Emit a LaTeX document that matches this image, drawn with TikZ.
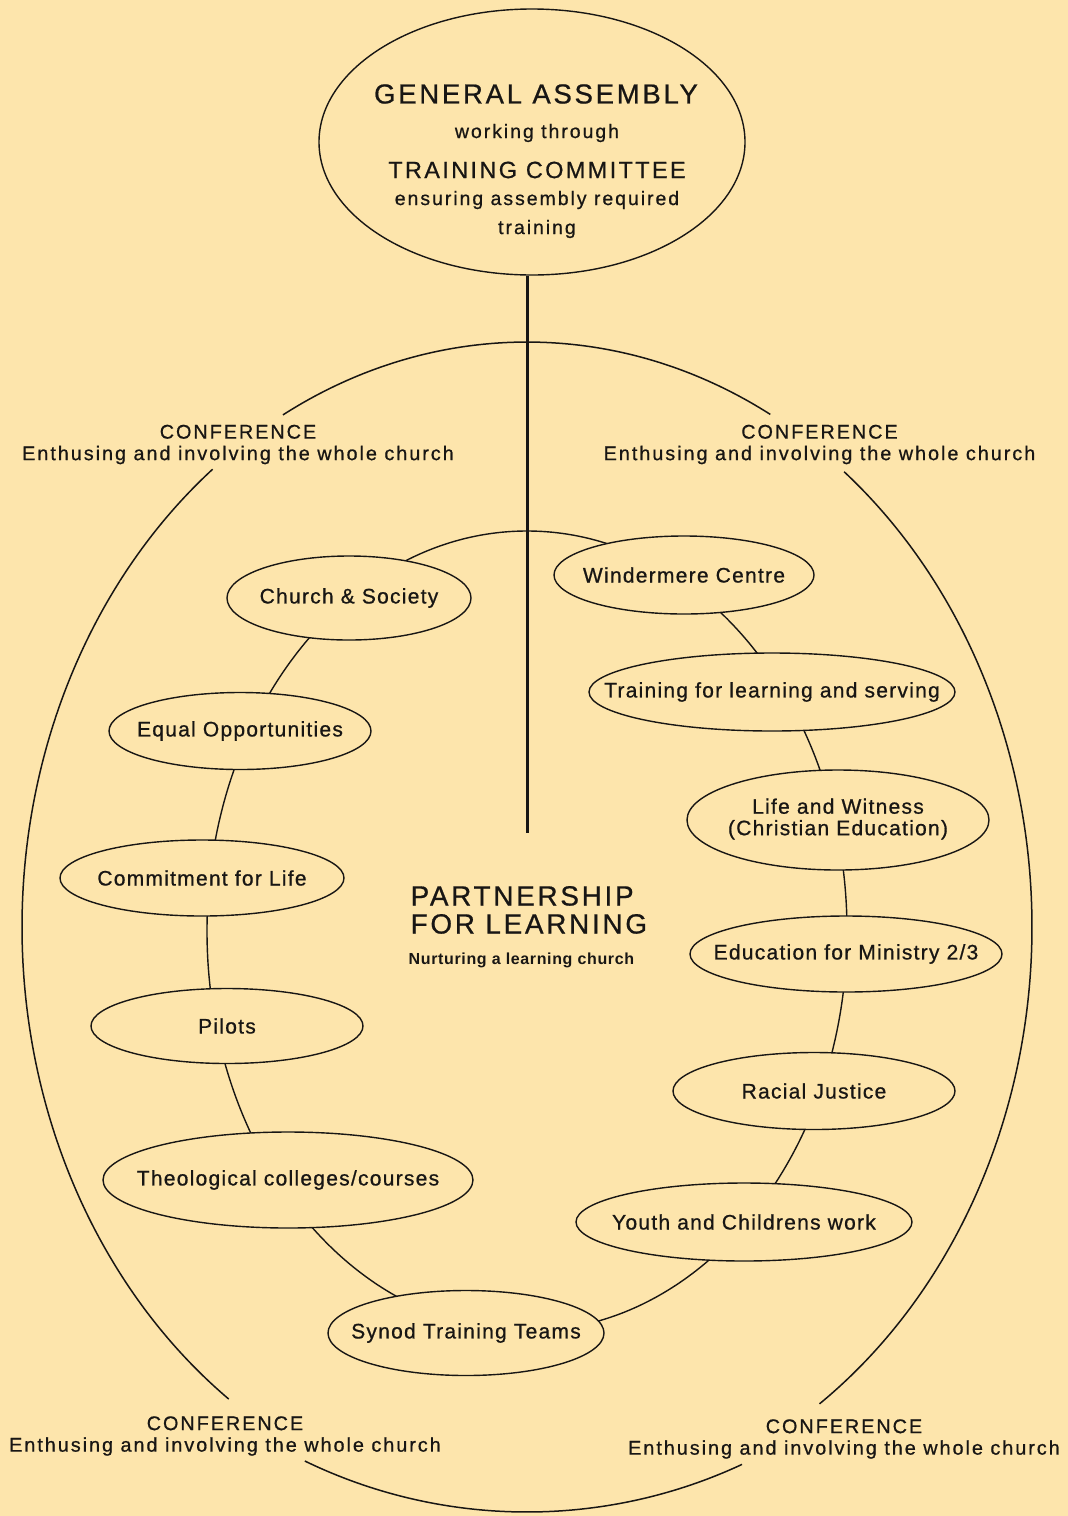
\documentclass[tikz,border=0pt]{standalone}
\usepackage{fontspec}
\setmainfont{Liberation Sans}
\newfontfamily\lsA[LetterSpace=10,FakeBold=0.7]{Liberation Sans}
\newfontfamily\lsB[LetterSpace=6,FakeBold=0.8]{Liberation Sans}
\newfontfamily\lsC[LetterSpace=4]{Liberation Sans}
\usetikzlibrary{shapes.geometric}
\definecolor{bg}{RGB}{253,229,172}
\definecolor{ink}{RGB}{24,22,20}
\newcommand{\zw}[1]{\makebox[0pt]{#1}}
\begin{document}
\begin{tikzpicture}[x=1pt,y=-1pt,line width=1.4pt,
  item/.style={ellipse,draw=ink,fill=bg,inner sep=0pt,text=ink,
    font=\lsB\fontsize{21}{21}\selectfont},
  conf/.style={align=center,text=ink,inner sep=0pt,
    font=\lsA\fontsize{19.8}{21.5}\selectfont},
  gabig/.style={text=ink,inner sep=0pt,font=\lsA\fontsize{27.5}{30}\selectfont},
  gamid/.style={text=ink,inner sep=0pt,font=\lsA\fontsize{23.5}{26}\selectfont},
  gasmall/.style={text=ink,inner sep=0pt,font=\lsA\fontsize{19.5}{22}\selectfont},
  ptitle/.style={text=ink,inner sep=0pt,anchor=base west,font=\lsA\fontsize{27.8}{30}\selectfont},
  psub/.style={text=ink,inner sep=0pt,anchor=base west,font=\lsC\bfseries\fontsize{16}{18}\selectfont},
  outer/.style={draw=ink,line width=1.5pt},
  stem/.style={draw=ink,line width=3pt}]
\fill[bg] (0,0) rectangle (1068,1516);
\useasboundingbox (0,0) rectangle (1068,1516);

% outer conference ring (four arcs)
\coordinate (oc) at (527,927);
\coordinate (ob) at (527,1012);
\draw[outer] (oc) ++(61.2:505pt and 585pt) arc[start angle=61.2,end angle=118.9,x radius=505pt,y radius=585pt];
\draw[outer] (oc) ++(128.5:505pt and 585pt) arc[start angle=128.5,end angle=233.8,x radius=505pt,y radius=585pt];
\draw[outer] (ob) ++(243.9:505pt and 500pt) arc[start angle=243.9,end angle=295.2,x radius=505pt,y radius=500pt];
\draw[outer] (oc) ++(-54.6:505pt and 585pt) arc[start angle=-54.6,end angle=51.1,x radius=505pt,y radius=585pt];

% inner ring linking the partners
\draw[draw=ink,line width=1.4pt] (527,931) ellipse [x radius=320pt, y radius=400pt];

% general assembly
\node[ellipse,draw=ink,fill=bg,inner sep=0pt,minimum width=426,minimum height=266] (ga) at (532,142) {};
\coordinate (vbot) at (527,833);
\draw[stem] (ga.south -| vbot) -- (vbot);
\node[gabig] (ga1) at (536,94) {GENERAL ASSEMBLY};
\node[gasmall] (ga2) at (537,133) {working through};
\node[gamid] (ga3) at (537,170) {TRAINING COMMITTEE};
\node[gasmall] (ga4) at (537,200) {ensuring assembly required};
\node[gasmall] (ga5) at (537,229) {training};

% conference labels
\node[conf] (c1) at (238,444.5) {CONFERENCE\\Enthusing and involving the whole church};
\node[conf] (c2) at (819.5,444.5) {CONFERENCE\\Enthusing and involving the whole church};
\node[conf] (c3) at (225,1436) {CONFERENCE\\Enthusing and involving the whole church};
\node[conf] (c4) at (844,1439) {CONFERENCE\\Enthusing and involving the whole church};

% partners
\node[item,minimum width=244,minimum height=84] (cs) at (349,598) {\zw{Church \& Society}};
\node[item,minimum width=260,minimum height=78] (wc) at (684,575) {\zw{Windermere Centre}};
\node[item,minimum width=366,minimum height=78] (tl) at (772,692) {\zw{Training for learning and serving}};
\node[item,minimum width=262,minimum height=77] (eo) at (240,731) {\zw{Equal Opportunities}};
\node[item,minimum width=302,minimum height=100] (lw) at (838,820) {\zw{\begin{tabular}{@{}c@{}}Life and Witness\\(Christian Education)\end{tabular}}};
\node[item,minimum width=284,minimum height=76] (cl) at (202,878) {\zw{Commitment for Life}};
\node[item,minimum width=312,minimum height=76] (em) at (846,954) {\zw{Education for Ministry 2/3}};
\node[item,minimum width=272,minimum height=75] (pi) at (227,1026) {\zw{Pilots}};
\node[item,minimum width=282,minimum height=77] (rj) at (814,1091) {\zw{Racial Justice}};
\node[item,minimum width=370,minimum height=96] (tc) at (288,1180) {\zw{Theological colleges/courses}};
\node[item,minimum width=336,minimum height=78] (yc) at (744,1222) {\zw{Youth and Childrens work}};
\node[item,minimum width=276,minimum height=85] (st) at (466,1333) {\zw{Synod Training Teams}};

% centre title
\node[ptitle] (p1) at (410,905.5) {PARTNERSHIP};
\node[ptitle] (p2) at (410,933.5) {FOR LEARNING};
\node[psub] (p3) at (408,964) {Nurturing a learning church};
\end{tikzpicture}
\end{document}
